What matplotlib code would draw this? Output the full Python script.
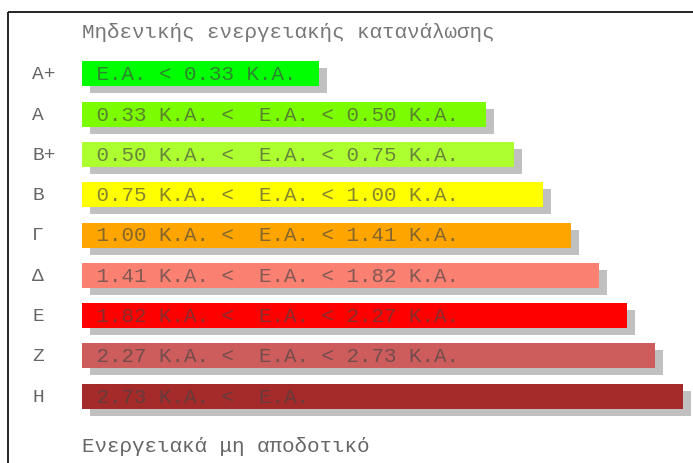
import matplotlib.pyplot as plt

grades = ["A+", "A", "B+", "B", "Γ", "Δ", "E", "Z", "H"]
ranges = [
    " E.A. < 0.33 K.A.",
    " 0.33 K.A. <  E.A. < 0.50 K.A.",
    " 0.50 K.A. <  E.A. < 0.75 K.A.",
    " 0.75 K.A. <  E.A. < 1.00 K.A.",
    " 1.00 K.A. <  E.A. < 1.41 K.A.",
    " 1.41 K.A. <  E.A. < 1.82 K.A.",
    " 1.82 K.A. <  E.A. < 2.27 K.A.",
    " 2.27 K.A. <  E.A. < 2.73 K.A.",
    " 2.73 K.A. <  E.A.",
]
lengths = [237, 404, 432, 461, 489, 517, 545, 573, 601]
colors = ["#00ff00", "#7cfc00", "#adff2f", "#ffff00", "#ffa500",
          "#fa8072", "#ff0000", "#cd5c5c", "#a52a2a"]
top_text = "Μηδενικής ενεργειακής κατανάλωσης"
bottom_text = "Ενεργειακά μη αποδοτικό"

W, H = 693, 464
fig = plt.figure(figsize=(W / 100, H / 100), dpi=100)
ax = fig.add_axes([0, 0, 1, 1])
ax.set_xlim(0, W)
ax.set_ylim(H, 0)
ax.axis("off")

x0 = 82
ys = [74.8 + 40.3 * i for i in range(len(grades))]
font = "Liberation Mono"

# shadows first, then the coloured bars
ax.barh([y + 7 for y in ys], lengths, left=x0 + 8, height=25, color="#c0c0c0", zorder=1)
ax.barh(ys, lengths, left=x0, height=25, color=colors, zorder=2)

for y, g, r in zip(ys, grades, ranges):
    ax.text(32, y, g, family=font, fontsize=14, color="#666666", va="center", ha="left")
    ax.text(x0 + 2, y, r, family=font, fontsize=15, color="#444444", alpha=0.65,
            va="center", ha="left", zorder=3)

ax.text(x0, 32, top_text, family=font, fontsize=15, color="#777777", va="center", ha="left")
ax.text(x0, 447, bottom_text, family=font, fontsize=15, color="#666666", va="center", ha="left")

# frame lines (top and left)
ax.plot([8, W], [13.3, 13.3], color="black", lw=1.2, solid_capstyle="butt")
ax.plot([8, 8], [13.3, H], color="black", lw=1.2, solid_capstyle="butt")

fig.savefig("out.png", dpi=100, facecolor="white")
